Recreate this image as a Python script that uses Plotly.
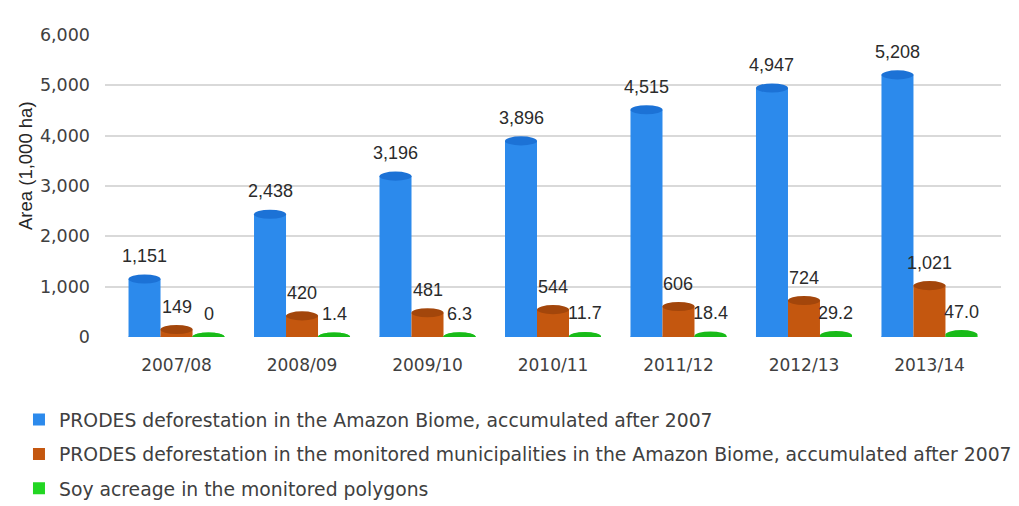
import plotly.graph_objects as go

# ---- data ----
seasons = ["2007/08", "2008/09", "2009/10", "2010/11", "2011/12", "2012/13", "2013/14"]
prodes_biome = [1151, 2438, 3196, 3896, 4515, 4947, 5208]
prodes_municipalities = [149, 420, 481, 544, 606, 724, 1021]
soy_polygons = [0, 1.4, 6.3, 11.7, 18.4, 29.2, 47.0]

series_names = [
    "PRODES deforestation in the Amazon Biome, accumulated after 2007",
    "PRODES deforestation in the monitored municipalities in the Amazon Biome, accumulated after 2007",
    "Soy acreage in the monitored polygons",
]
series_values = [prodes_biome, prodes_municipalities, soy_polygons]
y_title = "Area (1,000 ha)"

body_colors = ["#2c8aec", "#c4570f", "#22d622"]
cap_colors = ["#1c72d6", "#a3460b", "#18bb18"]

BARGAP = 0.235
W = (1 - BARGAP) / 3          # width of one bar in axis units
CAP_H = 90                    # half-height of cylinder cap ellipse (axis units)

def fmt(k, v):
    if k < 2:
        return f"{v:,.0f}"
    return "0" if v == 0 else f"{v:.1f}"

x_idx = list(range(len(seasons)))

fig = go.Figure()
shapes = []
annotations = []
for k, (name, vals) in enumerate(zip(series_names, series_values)):
    fig.add_trace(go.Bar(
        x=x_idx, y=vals, name=name, legendgroup=f"g{k}",
        marker=dict(color=body_colors[k], line=dict(width=0)),
        hoverinfo="y+name",
    ))
    off = (k - 1) * W
    for i, v in enumerate(vals):
        xc = i + off
        shapes.append(dict(type="circle", xref="x", yref="y",
                           x0=xc - W / 2, x1=xc + W / 2, y0=-CAP_H, y1=CAP_H,
                           fillcolor=body_colors[k], line=dict(width=0), layer="above"))
        shapes.append(dict(type="circle", xref="x", yref="y",
                           x0=xc - W / 2, x1=xc + W / 2, y0=v - CAP_H, y1=v + CAP_H,
                           fillcolor=cap_colors[k], line=dict(width=0), layer="above"))
        annotations.append(dict(x=xc, y=v, xref="x", yref="y", text=fmt(k, v),
                                showarrow=False, yanchor="middle", yshift=23,
                                font=dict(family="Liberation Sans", size=18, color="#2b2b2b")))

# y-axis title as rotated annotation (positioned like the reference)
annotations.append(dict(text=y_title, xref="paper", yref="paper", x=-0.0893, y=0.5695,
                        xanchor="center", yanchor="middle", textangle=-90, showarrow=False,
                        font=dict(family="Liberation Sans", size=18.5, color="#262626")))

fig.update_layout(
    width=1011, height=498,
    paper_bgcolor="white", plot_bgcolor="white",
    margin=dict(l=97, r=18, t=27, b=169, autoexpand=False),
    barmode="group", bargap=BARGAP, bargroupgap=0,
    shapes=shapes, annotations=annotations,
    showlegend=True,
    legend=dict(
        x=-0.096, y=-0.211,
        xanchor="left", yanchor="top",
        orientation="v", tracegroupgap=7,
        font=dict(family="DejaVu Sans", size=18.8, color="#404040"),
        bgcolor="rgba(0,0,0,0)",
    ),
    font=dict(family="Liberation Sans", color="#404040"),
)

fig.update_xaxes(
    range=[-0.57, 6.57], tickmode="array", tickvals=x_idx, ticktext=seasons,
    showgrid=False, zeroline=False, showline=False, ticks="",
    tickfont=dict(family="DejaVu Sans", size=17, color="#404040"),
    ticklabelstandoff=16, automargin=False,
)
fig.update_yaxes(
    range=[0, 6000], dtick=1000, tickformat=",d",
    showgrid=True, gridcolor="#d9d9d9", gridwidth=2,
    zeroline=False, showline=False, ticks="",
    tickfont=dict(family="DejaVu Sans", size=17.5, color="#404040"),
    ticklabelstandoff=14, automargin=False,
)

fig.write_html("out.html")
